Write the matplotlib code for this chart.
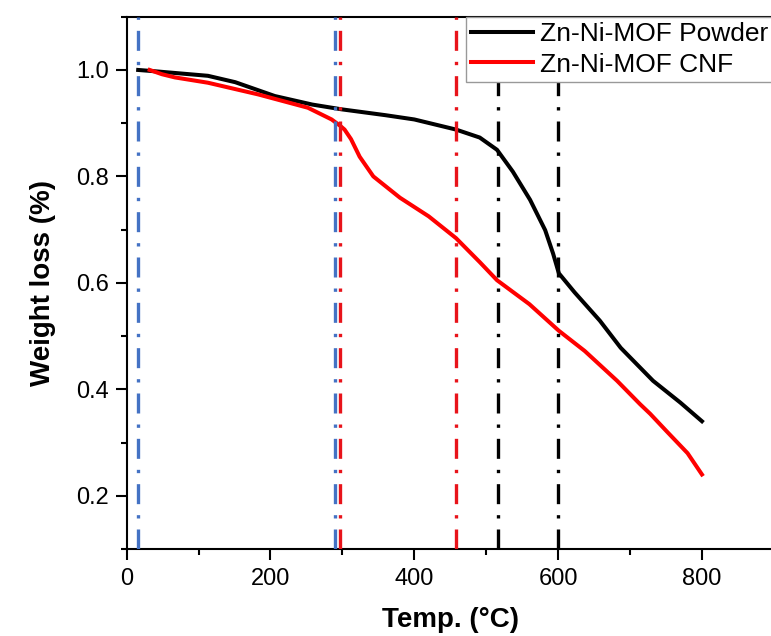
import numpy as np
import matplotlib
matplotlib.use('Agg')
import matplotlib.pyplot as plt
from matplotlib.ticker import MultipleLocator

plt.rcParams['font.family'] = ['Liberation Sans', 'DejaVu Sans']

# TGA curves
powder_T = [16, 44, 113, 151, 206, 258, 299, 360, 400, 458, 491, 515, 537, 561,
            582, 593, 601, 623, 658, 687, 732, 770, 800]
powder_w = [1.0, 0.997, 0.989, 0.977, 0.951, 0.935, 0.926, 0.915, 0.907, 0.888,
            0.873, 0.85, 0.809, 0.756, 0.699, 0.655, 0.618, 0.582, 0.529, 0.478,
            0.416, 0.375, 0.34]

cnf_T = [32, 49, 67, 113, 183, 252, 285, 297, 303, 312, 324, 343, 380, 420, 458,
         491, 515, 560, 601, 637, 682, 714, 728, 751, 780, 800]
cnf_w = [1.0, 0.992, 0.986, 0.976, 0.954, 0.929, 0.907, 0.895, 0.888, 0.87, 0.837,
         0.80, 0.76, 0.725, 0.684, 0.639, 0.605, 0.56, 0.51, 0.472, 0.416, 0.372,
         0.354, 0.321, 0.28, 0.24]

# marker temperatures (vertical dash-dot lines)
blue_T = [16, 290]
red_T = [297, 458]
black_T = [516, 600]

fig = plt.figure(figsize=(7.71, 6.36), dpi=100)
ax = fig.add_axes([0.1643, 0.1368, 0.8394, 0.8369])

ax.plot(powder_T, powder_w, color='black', lw=2.9, label='Zn-Ni-MOF Powder', zorder=2)
ax.plot(cnf_T, cnf_w, color='#ff0000', lw=2.9, label='Zn-Ni-MOF CNF', zorder=2)

dashdot = (0, (6, 3.3, 1, 3.3))
for t in blue_T:
    ax.axvline(t, color='#4472c4', lw=2.4, ls=dashdot, zorder=3)
for t in red_T:
    ax.axvline(t, color='#e8131a', lw=2.4, ls=dashdot, zorder=3)
for t in black_T:
    ax.axvline(t, color='black', lw=2.4, ls=dashdot, zorder=3)

ax.set_xlim(0, 900)
ax.set_ylim(0.1, 1.1)
ax.xaxis.set_major_locator(MultipleLocator(200))
ax.xaxis.set_minor_locator(MultipleLocator(100))
ax.yaxis.set_major_locator(MultipleLocator(0.2))
ax.yaxis.set_minor_locator(MultipleLocator(0.1))
ax.tick_params(which='major', direction='out', length=8, width=1.5, labelsize=17, pad=5)
ax.tick_params(which='minor', direction='out', length=4.5, width=1.5)
ax.tick_params(axis='x', which='major', pad=6)
for s in ax.spines.values():
    s.set_linewidth(1.5)

ax.set_xlabel('Temp. (°C)', fontsize=20, fontweight='bold', labelpad=12)
ax.set_ylabel('Weight loss (%)', fontsize=20, fontweight='bold', labelpad=14)

leg = ax.legend(loc='upper right', bbox_to_anchor=(1.0, 1.0), borderaxespad=0,
                fontsize=19, handlelength=2.35, handletextpad=0.27, borderpad=0.2,
                labelspacing=0.25, fancybox=False, framealpha=1, edgecolor='#999999')
leg.get_frame().set_linewidth(1.0)
leg.set_zorder(5)

fig.savefig('out.png', dpi=100)
